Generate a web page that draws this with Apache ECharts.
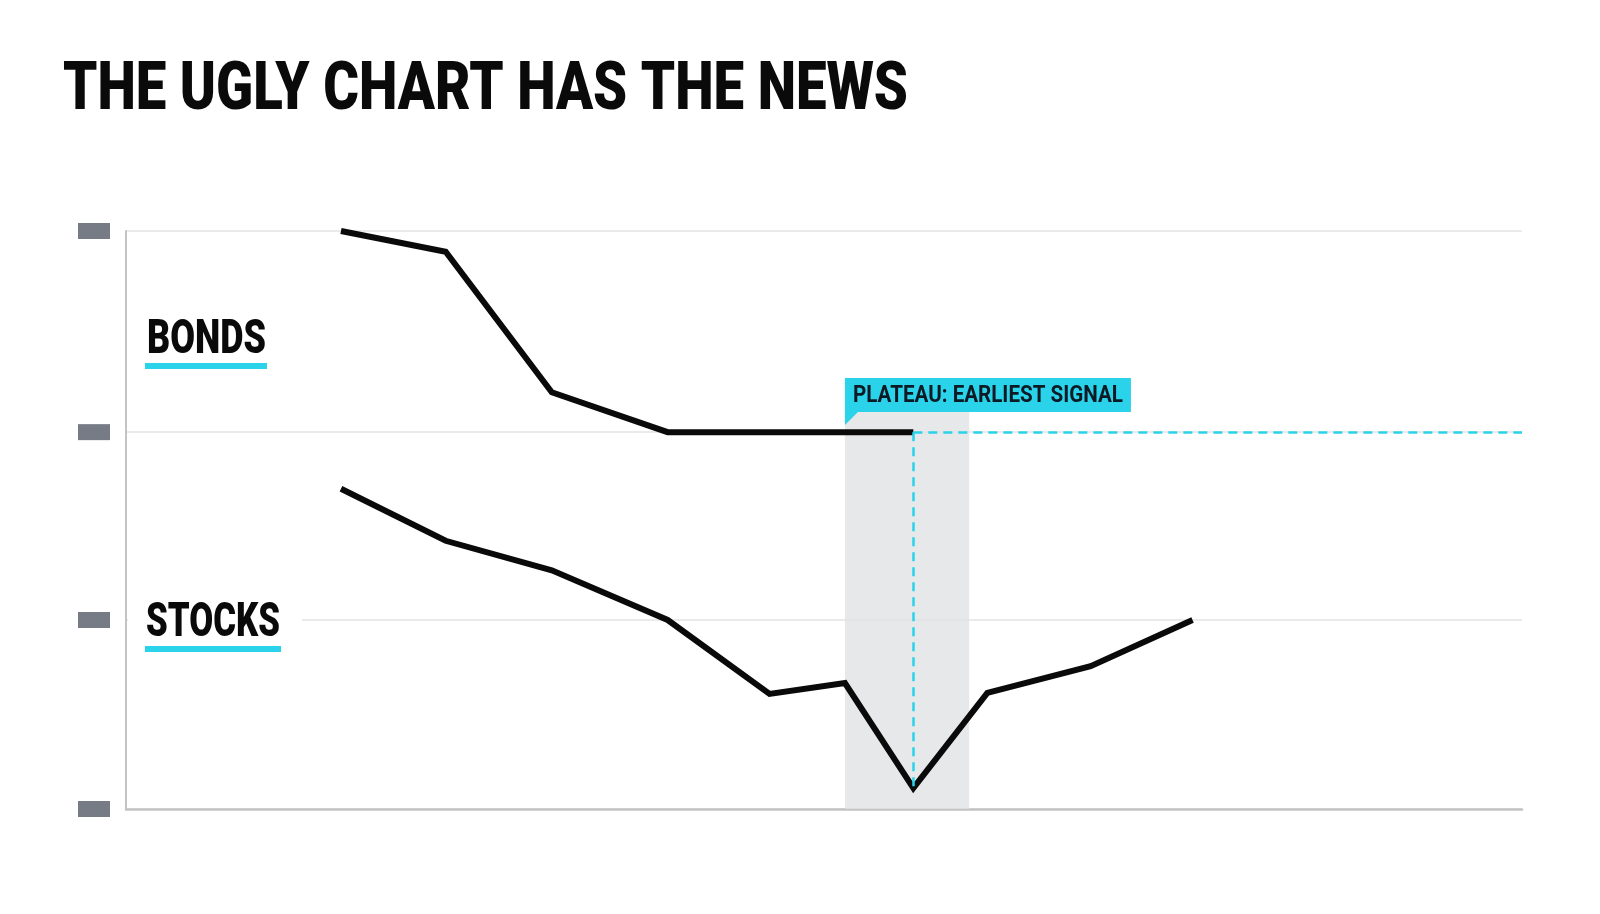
<!DOCTYPE html>
<html>
<head>
<meta charset="utf-8">
<script src="https://cdn.jsdelivr.net/npm/echarts@6/dist/echarts.min.js"></script>
<style>
  html, body { margin: 0; padding: 0; background: #ffffff; }
  #chart { width: 1600px; height: 914px; }
</style>
</head>
<body>
<div id="chart"></div>
<script>
// time positions (arbitrary units, 0..100) and index levels (0..100)
const bondsX = [15.4, 22.9, 30.5, 38.8, 56.4];
const bondsY = [100, 96.4, 72.1, 65.2, 65.2];
const stocksX = [15.4, 22.9, 30.5, 38.8, 46.1, 51.5, 56.4, 61.7, 69.1, 76.4];
const stocksY = [55.4, 46.4, 41.3, 32.7, 19.9, 21.8, 3.6, 20.1, 24.7, 32.7];
const gridLevels = [0, 32.7, 65.2, 100];
const plateauBand = [51.5, 60.4];
const bandTop = 68.7;

const titleText = 'THE UGLY CHART HAS THE NEWS';
const calloutText = 'PLATEAU: EARLIEST SIGNAL';

const CYAN = '#2ad3ea';
const INK = '#0a0a0a';

const toPairs = (xs, ys) => xs.map((x, i) => [x, ys[i]]);

// mimic a condensed face by squeezing Roboto horizontally to a target width
const measureCtx = document.createElement('canvas').getContext('2d');
function squeeze(text, weight, size, width) {
  measureCtx.font = weight + ' ' + size + 'px Roboto';
  return width / measureCtx.measureText(text).width;
}

const chart = echarts.init(document.getElementById('chart'));

const bondsEnd = [bondsX[bondsX.length - 1], bondsY[bondsY.length - 1]];
const lowIdx = stocksY.indexOf(Math.min(...stocksY));
const stocksLow = [stocksX[lowIdx], stocksY[lowIdx]];

chart.setOption({
  backgroundColor: '#ffffff',
  animation: false,
  grid: { left: 126, right: 78, top: 231, bottom: 105 },
  xAxis: {
    type: 'value', min: 0, max: 100,
    axisLine: { show: true, lineStyle: { color: '#c3c3c3', width: 2.5 } },
    axisTick: { show: false },
    axisLabel: { show: false },
    splitLine: { show: false }
  },
  yAxis: {
    type: 'value', min: 0, max: 100,
    axisLine: { show: true, lineStyle: { color: '#c3c3c3', width: 2 } },
    axisTick: { show: false, customValues: gridLevels },
    axisLabel: {
      customValues: gridLevels,
      margin: 16,
      formatter: () => '{b| }',
      rich: { b: { width: 32, height: 16, backgroundColor: '#777b85' } }
    },
    splitLine: { show: true, lineStyle: { color: '#e3e3e3', width: 1.5 } }
  },
  series: [
    {
      name: 'Stocks', type: 'line', data: toPairs(stocksX, stocksY),
      symbol: 'none', z: 3,
      lineStyle: { color: INK, width: 6, join: 'miter' },
      markArea: {
        silent: true,
        itemStyle: { color: 'rgba(224,226,228,0.78)' },
        data: [[{ xAxis: plateauBand[0], yAxis: 0 }, { xAxis: plateauBand[1], yAxis: bandTop }]]
      }
    },
    {
      name: 'Bonds', type: 'line', data: toPairs(bondsX, bondsY),
      symbol: 'none', z: 3,
      lineStyle: { color: INK, width: 6, join: 'miter' },
      markLine: {
        silent: true, symbol: 'none',
        label: { show: false },
        lineStyle: { color: CYAN, width: 2.5, type: [9, 6] },
        data: [
          [{ coord: bondsEnd }, { coord: [100, bondsEnd[1]] }],
          [{ coord: bondsEnd }, { coord: stocksLow }]
        ]
      }
    }
  ]
});

// callout anchored to the top-left corner of the shaded band
const anchor = chart.convertToPixel({ gridIndex: 0 }, [plateauBand[0], bandTop]);
const boxH = 34, boxW = 286;

chart.setOption({
  graphic: [
    { type: 'text', x: 63, y: 92, z: 10,
      scaleX: squeeze(titleText, 900, 67, 845),
      style: { text: titleText, fontFamily: 'Roboto', fontWeight: 900, fontSize: 67, fill: INK, align: 'left', verticalAlign: 'middle' } },

    { type: 'text', x: 147, y: 341, z: 10,
      scaleX: squeeze('BONDS', 900, 49, 119),
      style: { text: 'BONDS', fontFamily: 'Roboto', fontWeight: 900, fontSize: 49, fill: INK, align: 'left', verticalAlign: 'middle' } },
    { type: 'rect', z: 10, shape: { x: 145, y: 363, width: 122, height: 6 }, style: { fill: CYAN } },

    { type: 'rect', z: 5, shape: { x: 128, y: 598, width: 174, height: 44 }, style: { fill: '#ffffff' } },
    { type: 'text', x: 146, y: 624, z: 10,
      scaleX: squeeze('STOCKS', 900, 49, 134),
      style: { text: 'STOCKS', fontFamily: 'Roboto', fontWeight: 900, fontSize: 49, fill: INK, align: 'left', verticalAlign: 'middle' } },
    { type: 'rect', z: 10, shape: { x: 145, y: 646, width: 136, height: 6 }, style: { fill: CYAN } },

    { type: 'rect', z: 10, shape: { x: anchor[0], y: anchor[1] - boxH, width: boxW, height: boxH }, style: { fill: CYAN } },
    { type: 'polygon', z: 10, shape: { points: [[anchor[0], anchor[1] - 1], [anchor[0] + 14, anchor[1] - 1], [anchor[0], anchor[1] + 13]] }, style: { fill: CYAN } },
    { type: 'text', x: anchor[0] + 8, y: anchor[1] - boxH / 2 + 1, z: 11,
      scaleX: squeeze(calloutText, 'bold', 23, 270),
      style: { text: calloutText, fontFamily: 'Roboto', fontWeight: 'bold', fontSize: 23, fill: '#0b1a24', align: 'left', verticalAlign: 'middle' } }
  ]
});
</script>
</body>
</html>
